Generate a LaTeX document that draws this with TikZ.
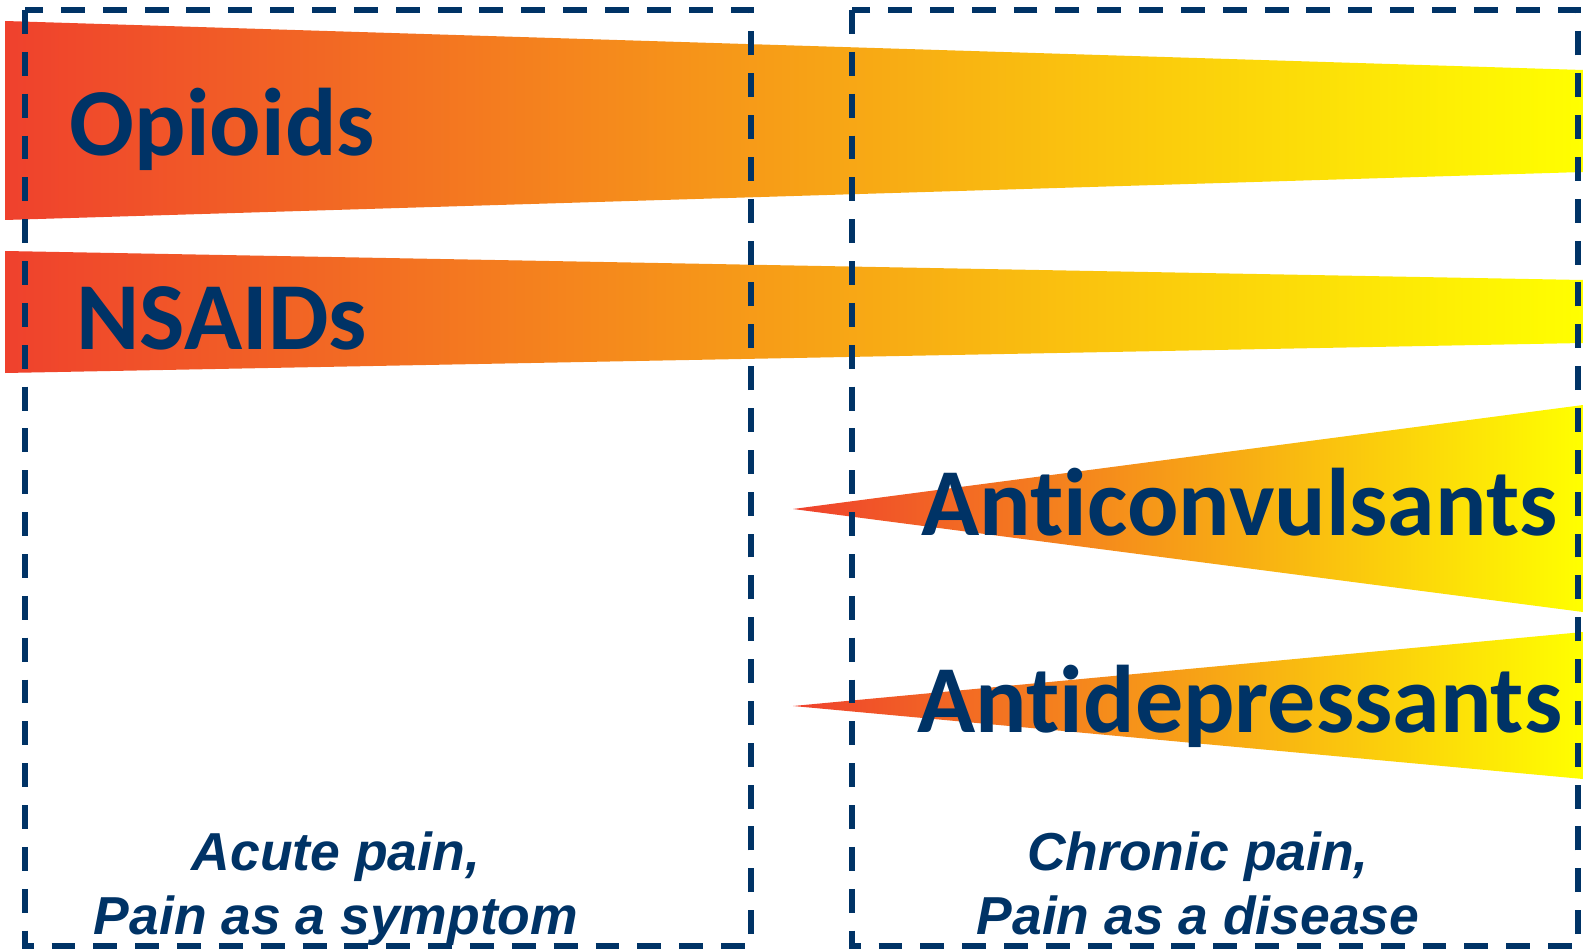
\documentclass[tikz,border=0pt]{standalone}
\usepackage{fontspec}
\setmainfont{Carlito}[Ligatures={NoCommon}]
\newfontfamily\labelfont{Liberation Sans}
\usepackage{tikz}
\usetikzlibrary{positioning}
\definecolor{drugblue}{RGB}{0,51,102}
\definecolor{painred}{RGB}{239,65,45}
\definecolor{painorange}{RGB}{245,165,35}
\definecolor{painyellow}{RGB}{255,255,0}

\begin{document}
\begin{tikzpicture}[x=0.01cm, y=-0.01cm]
\tikzset{band/.style={left color=painred, middle color=painorange, right color=painyellow}}
\tikzset{drug/.style={font=\bfseries\fontsize{27.3}{27}\selectfont, text=drugblue, inner sep=0pt, anchor=base west}}
\tikzset{pain/.style={font=\labelfont\bfseries\itshape\fontsize{15.2}{18}\selectfont, text=drugblue, inner sep=0pt, anchor=base}}
\tikzset{zone/.style={draw=drugblue, line width=1.6pt, dash pattern=on 6.8pt off 5.1pt}}
\useasboundingbox (0,0) rectangle (1583,949);
% drug classes
\shade[band] (5,21) -- (1583,70) -- (1583,172) -- (5,220) -- cycle;
\shade[band] (5,251) -- (1583,280) -- (1583,343) -- (5,373) -- cycle;
\shade[band] (793,509) -- (1583,405) -- (1583,612) -- cycle;
\shade[band] (793,706) -- (1583,632) -- (1583,779) -- cycle;
% acute and chronic zones
\draw[zone] (25,10) rectangle (751,946);
\draw[zone] (852,10) rectangle (1578,946);
\node[drug] (opioids) at (69,156) {Opioids};
\node[drug] (nsaids) at (76,350) {NSAIDs};
\node[drug] (anticonv) at (921,535) {Anticonvulsants};
\node[drug] (antidep) at (917,732) {Antidepressants};
\node[pain] (acute) at (336,870) {Acute pain,};
\node[pain] (symptom) at (336,934) {Pain as a symptom};
\node[pain] (chronic) at (1198,870) {Chronic pain,};
\node[pain] (disease) at (1198,934) {Pain as a disease};
\end{tikzpicture}
\end{document}
